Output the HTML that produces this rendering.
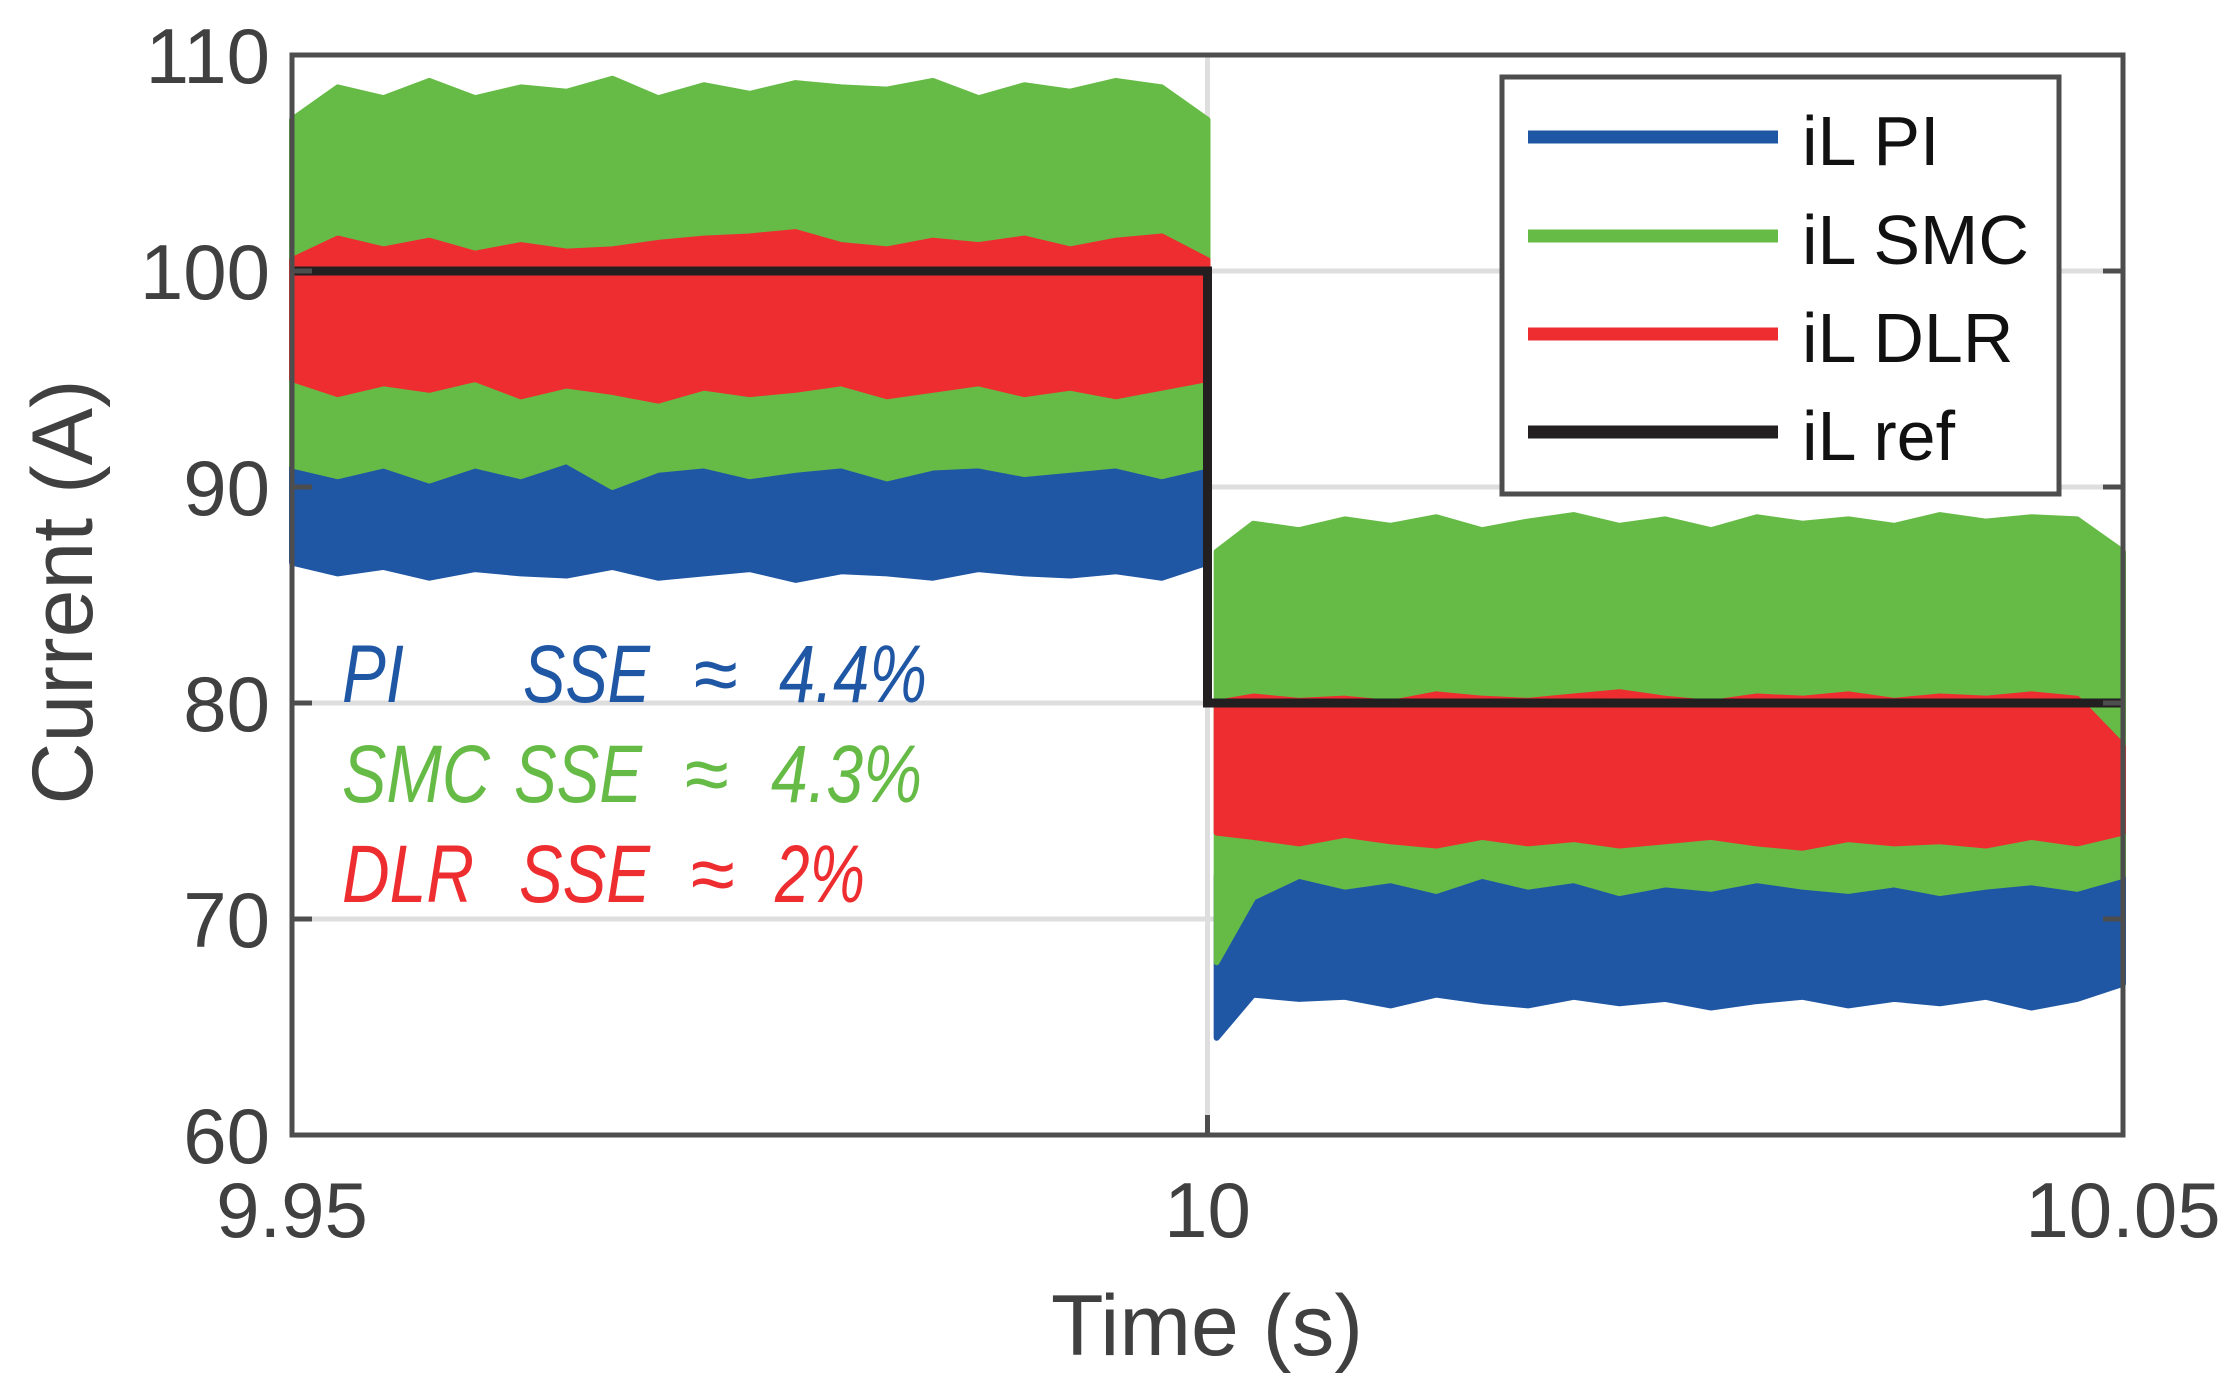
<!DOCTYPE html>
<html><head><meta charset="utf-8"><style>
html,body{margin:0;padding:0;background:#fff;}
svg{display:block;font-family:"Liberation Sans",sans-serif;}
</style></head><body>
<svg id="chart" width="2230" height="1397" viewBox="0 0 2230 1397" xmlns="http://www.w3.org/2000/svg">
<g id="grid"></g>
<g id="series"></g>
<g id="axes"></g>
<g id="annot" font-style="italic" font-size="82">
 <text x="342" y="702" fill="#1f57a5" textLength="62" lengthAdjust="spacingAndGlyphs">PI</text>
 <text x="523" y="702" fill="#1f57a5" textLength="127" lengthAdjust="spacingAndGlyphs">SSE</text>
 <text x="693" y="702" fill="#1f57a5" textLength="44" lengthAdjust="spacingAndGlyphs">≈</text>
 <text x="779" y="702" fill="#1f57a5" textLength="148" lengthAdjust="spacingAndGlyphs">4.4%</text>
 <text x="342" y="802" fill="#66bb46" textLength="148" lengthAdjust="spacingAndGlyphs">SMC</text>
 <text x="514" y="802" fill="#66bb46" textLength="128" lengthAdjust="spacingAndGlyphs">SSE</text>
 <text x="684" y="802" fill="#66bb46" textLength="44" lengthAdjust="spacingAndGlyphs">≈</text>
 <text x="771" y="802" fill="#66bb46" textLength="151" lengthAdjust="spacingAndGlyphs">4.3%</text>
 <text x="342" y="902" fill="#ee2d30" textLength="132" lengthAdjust="spacingAndGlyphs">DLR</text>
 <text x="519" y="902" fill="#ee2d30" textLength="131" lengthAdjust="spacingAndGlyphs">SSE</text>
 <text x="690" y="902" fill="#ee2d30" textLength="44" lengthAdjust="spacingAndGlyphs">≈</text>
 <text x="775" y="902" fill="#ee2d30" textLength="90" lengthAdjust="spacingAndGlyphs">2%</text>
</g>
<g id="legend"></g>
</svg>
<script>
const tPre = [9.95,9.9525,9.955,9.9575,9.96,9.9625,9.965,9.9675,9.97,9.9725,9.975,9.9775,9.98,9.9825,9.985,9.9875,9.99,9.9925,9.995,9.9975,10.0];
const tPost = [10.0005,10.0025,10.005,10.0075,10.01,10.0125,10.015,10.0175,10.02,10.0225,10.025,10.0275,10.03,10.0325,10.035,10.0375,10.04,10.0425,10.045,10.0475,10.05];
const greenPreHi = [107,108.5,108,108.8,108,108.5,108.3,108.9,108,108.6,108.2,108.7,108.5,108.4,108.8,108,108.6,108.3,108.8,108.5,107];
const greenPreLo = [91,90.5,91,90.3,91,90.5,91.2,90,90.8,91,90.5,90.8,91,90.4,90.9,91,90.6,90.8,91,90.5,91];
const redPreHi = [100.5,101.5,101,101.4,100.8,101.2,100.9,101,101.3,101.5,101.6,101.8,101.2,101,101.4,101.2,101.5,101,101.4,101.6,100.5];
const redPreLo = [95,94.3,94.8,94.5,95,94.2,94.7,94.4,94,94.6,94.3,94.5,94.8,94.2,94.5,94.8,94.3,94.6,94.2,94.6,95];
const bluePreHi = [92,92,92,92,92,92,92,92,92,92,92,92,92,92,92,92,92,92,92,92,92];
const bluePreLo = [86.5,86,86.3,85.8,86.2,86,85.9,86.3,85.8,86,86.2,85.7,86.1,86,85.8,86.2,86,85.9,86.1,85.8,86.5];
const greenPostHi = [87,88.3,88,88.5,88.2,88.6,88,88.4,88.7,88.2,88.5,88,88.6,88.3,88.5,88.2,88.7,88.4,88.6,88.5,87];
const greenPostLo = [68,71,72,71.5,71.8,71.3,72,71.5,71.8,71.2,71.6,71.4,71.8,71.5,71.3,71.6,71.2,71.5,71.7,71.4,72];
const redPostHi = [80,80.3,80.1,80.2,80,80.4,80.2,80.1,80.3,80.5,80.2,80,80.3,80.2,80.4,80.1,80.3,80.2,80.4,80.2,78];
const redPostLo = [74,73.8,73.5,73.9,73.6,73.4,73.8,73.5,73.7,73.4,73.6,73.8,73.5,73.3,73.7,73.5,73.6,73.4,73.8,73.5,74];
const bluePostHi = [72,72,72,72,72,72,72,72,72,72,72,72,72,72,72,72,72,72,72,72,72];
const bluePostLo = [64.5,66.5,66.3,66.4,66,66.5,66.2,66,66.4,66.1,66.3,65.9,66.2,66.4,66,66.3,66.1,66.4,65.9,66.3,67];
const refT = [9.95,10.0,10.0,10.05];
const refV = [100,100,80,80];
const yTicks = [60,70,80,90,100,110];
const xTicks = [9.95,10.0,10.05];
const xTickLabels = ["9.95","10","10.05"];
const legendLabels = ["iL PI","iL SMC","iL DLR","iL ref"];

const NS="http://www.w3.org/2000/svg";
const L=292,R=2123,T=55,B=1135;
const xs=t=>L+(t-9.95)/0.1*(R-L);
const ys=v=>B-(v-60)/50*(B-T);
function mk(tag,attrs,parent){const e=document.createElementNS(NS,tag);for(const k in attrs)e.setAttribute(k,attrs[k]);parent.appendChild(e);return e;}
const grid=document.getElementById('grid'),series=document.getElementById('series'),axes=document.getElementById('axes'),legend=document.getElementById('legend');

yTicks.forEach(v=>{
 const g=mk('line',{x1:L,x2:R,y1:ys(v),y2:ys(v),stroke:'#dedede','stroke-width':5},grid);
 
 
});
xTicks.forEach(t=>{
 const g=mk('line',{x1:xs(t),x2:xs(t),y1:T,y2:B,stroke:'#dedede','stroke-width':5},grid);
 
 
});

function band(ts,hi,lo,color,name){
 let pts=[];
 for(let i=0;i<ts.length;i++)pts.push(xs(ts[i])+','+ys(hi[i]));
 for(let i=ts.length-1;i>=0;i--)pts.push(xs(ts[i])+','+ys(lo[i]));
 const p=mk('polygon',{points:pts.join(' '),fill:color,stroke:color,'stroke-width':6,'stroke-linejoin':'round'},series);
 
 
}
band(tPre,bluePreHi,bluePreLo,'#1f57a5','il-pi-band-pre');
band(tPost,bluePostHi,bluePostLo,'#1f57a5','il-pi-band-post');
band(tPre,greenPreHi,greenPreLo,'#66bb46','il-smc-band-pre');
band(tPost,greenPostHi,greenPostLo,'#66bb46','il-smc-band-post');
band(tPre,redPreHi,redPreLo,'#ee2d30','il-dlr-band-pre');
band(tPost,redPostHi,redPostLo,'#ee2d30','il-dlr-band-post');
const refPts=refT.map((t,i)=>xs(t)+','+ys(refV[i])).join(' ');
const ref=mk('polyline',{points:refPts,fill:'none',stroke:'#231f20','stroke-width':9},series);



const box=mk('rect',{x:L,y:T,width:R-L,height:B-T,fill:'none',stroke:'#4d4d4d','stroke-width':5},axes);


yTicks.forEach(v=>{
 const tk=mk('line',{x1:L,x2:L+20,y1:ys(v),y2:ys(v),stroke:'#4d4d4d','stroke-width':5},axes);
 
 
 const tk2=mk('line',{x1:R-20,x2:R,y1:ys(v),y2:ys(v),stroke:'#4d4d4d','stroke-width':5},axes);
 
 
 const lb=mk('text',{x:L-22,y:ys(v)+28,'text-anchor':'end','font-size':78,fill:'#404040'},axes);
 lb.textContent=String(v);
 
 
});
xTicks.forEach((t,i)=>{
 const tk=mk('line',{x1:xs(t),x2:xs(t),y1:B-20,y2:B,stroke:'#4d4d4d','stroke-width':5},axes);
 
 
 const lb=mk('text',{x:xs(t),y:1237,'text-anchor':'middle','font-size':78,fill:'#404040'},axes);
 lb.textContent=xTickLabels[i];
 
 
});
const xt=mk('text',{x:1207,y:1355,'text-anchor':'middle','font-size':86,fill:'#404040'},axes);
xt.textContent='Time (s)';


const yt=mk('text',{x:0,y:0,'text-anchor':'middle','font-size':86,fill:'#404040',transform:'translate(92,592) rotate(-90)'},axes);
yt.textContent='Current (A)';



const lbox=mk('rect',{x:1502,y:77,width:557,height:417,fill:'#fff',stroke:'#4d4d4d','stroke-width':5},legend);


const lcols=['#1f57a5','#66bb46','#ee2d30','#231f20'];
const lrows=[137,236,334,432];
legendLabels.forEach((s,i)=>{
 const ln=mk('line',{x1:1528,x2:1778,y1:lrows[i],y2:lrows[i],stroke:lcols[i],'stroke-width':13},legend);
 
 
 const tx=mk('text',{x:1802,y:lrows[i]+28,'font-size':70,fill:'#111'},legend);
 tx.textContent=s;
 
 
});
</script>
</body></html>
